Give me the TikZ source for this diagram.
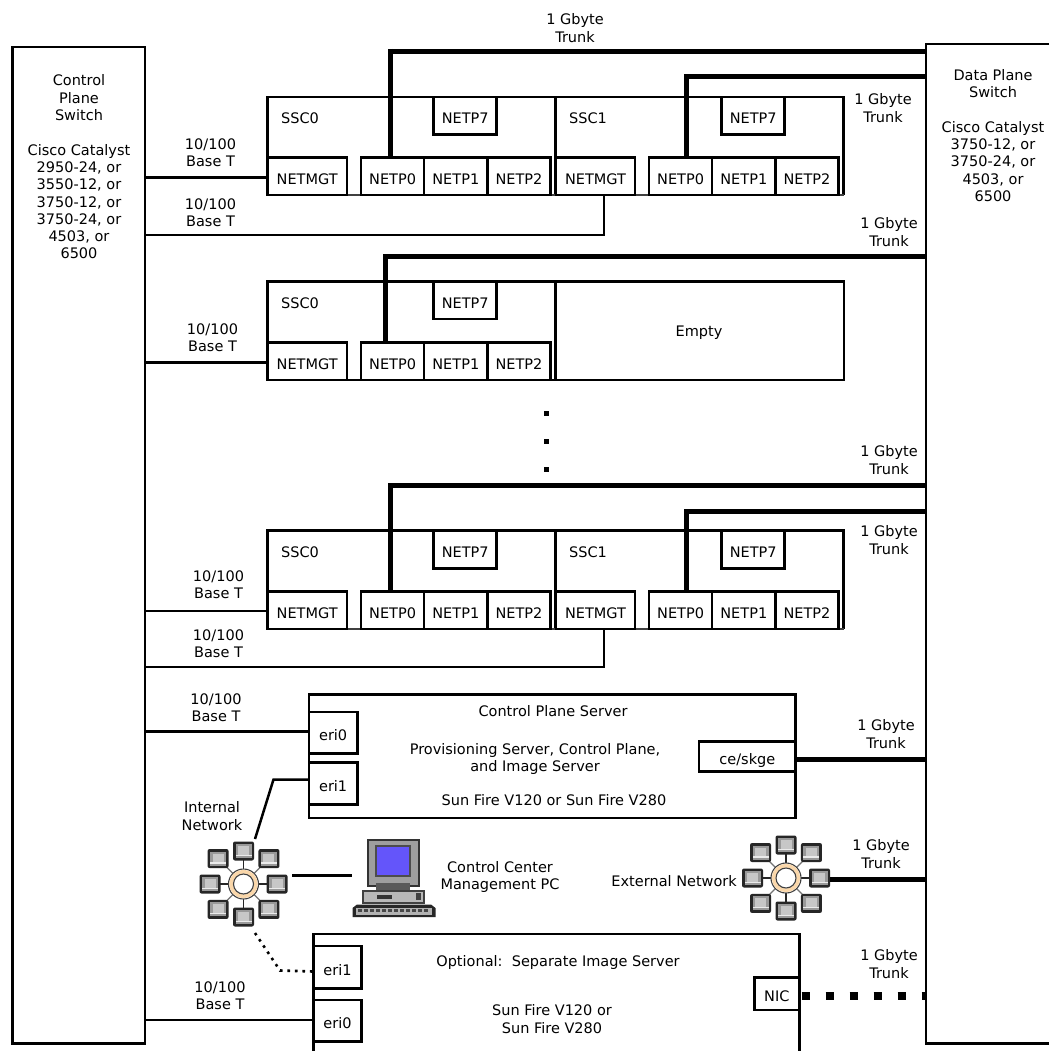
\documentclass[tikz,border=0pt]{standalone}
\usepackage{fontspec}
\setmainfont{DejaVu Sans}
\usetikzlibrary{calc}
\definecolor{screenblue}{RGB}{100,85,250}
\definecolor{ringorange}{RGB}{250,215,170}
\tikzset{
  x=1pt,y=-1pt,
  txt/.style={inner sep=0pt,align=center,font=\fontsize{14.5}{17.3}\selectfont},
  port/.style={draw,line width=2.5pt,fill=white,inner sep=0pt,outer sep=0pt,anchor=north west,
     font=\fontsize{14.5}{17.3}\selectfont,text height=16pt,text depth=0pt},
  frame/.style={line width=2.5pt},
  seam/.style={line width=1.8pt,black!75},
  thin link/.style={line width=2.5pt},
  trunk/.style={line width=5pt},
}
\newcommand{\portbox}[5]{\node[port,minimum width=#3pt,minimum height=#4pt] (#1) at (#2) {#5};}
\newcommand{\netgraph}[2]{%
 \begin{scope}[shift={(#2)}]
  \foreach \a in {0,90,180,270} \draw[line width=1.8pt,black!85] (0,0) -- (\a:30);
  \foreach \a in {45,135,225,315} \draw[line width=1.2pt,black!55] (0,0) -- (\a:30);
  \foreach \a/\r in {0/33.5,45/36,90/33,135/36,180/33.5,225/36,270/33,315/36}{
    \begin{scope}[shift={(\a:\r)}]
      \fill[black!85,rounded corners=2pt] (-10.5,-9.5) rectangle (10.5,9.5);
      \fill[black!40] (-8,-7) rectangle (8,7);
      \fill[black!22] (-5.5,-5) rectangle (5.5,3.5);
      \fill[black!8] (-8,3.5) rectangle (8,5);
    \end{scope}
  }
  \draw[black!75,fill=white,line width=1.1pt] (0,0) circle (15);
  \draw[ringorange,line width=3.6pt] (0,0) circle (12.4);
  \draw[black!75,line width=1.1pt] (0,0) circle (10);
 \end{scope}}
\begin{document}
\begin{tikzpicture}
\useasboundingbox (0,0) rectangle (1049,1051);
\fill[white] (0,0) rectangle (1049,1051);

% switches
\node[draw,line width=2.5pt,outer sep=0pt,inner sep=0pt,anchor=north west,minimum width=132.3pt,minimum height=996.5pt] (cps) at (12.7,47) {};
\coordinate (dps) at (926,44);
\draw[frame] (1049,44) -- (926,44) -- (926,1043.5) -- (1049,1043.5);
\node[txt] (cpstext) at (79,167) {Control\\Plane\\Switch\\[17.3pt]Cisco Catalyst\\2950-24, or\\3550-12, or\\3750-12, or\\3750-24, or\\4503, or\\6500};
\node[txt] (dpstext) at (993,135.5) {Data Plane\\Switch\\[17.3pt]Cisco Catalyst\\3750-12, or\\3750-24, or\\4503, or\\6500};

% SSC group 1
\draw[frame] (267.4,195) -- (267.4,96.8) -- (843.5,96.8) -- (843.5,195);
\draw[frame] (555.7,96.8) -- (555.7,195);
\draw[seam] (267.4,195) -- (843.5,195);
\node[txt,anchor=west] (a0) at (281,118.5) {SSC0};
\node[txt,anchor=west] (a1) at (569,118.5) {SSC1};
\portbox{a2}{433.7,96.8}{63}{37.5}{NETP7}
\portbox{a3}{721.7,96.8}{63}{37.5}{NETP7}
\portbox{a4}{267.4,157.4}{79.6}{37.6}{NETMGT}
\portbox{a5}{361,157.4}{63.2}{37.6}{NETP0}
\portbox{a6}{424.2,157.4}{63.2}{37.6}{NETP1}
\portbox{a7}{487.4,157.4}{63.2}{37.6}{NETP2}
\portbox{a8}{556,157.4}{79}{37.6}{NETMGT}
\portbox{a9}{649,157.4}{63.2}{37.6}{NETP0}
\portbox{a10}{712.2,157.4}{63.2}{37.6}{NETP1}
\portbox{a11}{775.4,157.4}{63.2}{37.6}{NETP2}

% SSC group 2
\draw[frame] (267.4,380) -- (267.4,281.5) -- (844,281.5) -- (844,380) -- cycle;
\draw[frame] (555.7,281.5) -- (555.7,380);
\node[txt,anchor=west] (b0) at (281,303.5) {SSC0};
\node[txt] (b1) at (699,333) {Empty};
\portbox{b2}{433.7,281.5}{63}{37.5}{NETP7}
\portbox{b4}{267.4,342.5}{79.6}{37.5}{NETMGT}
\portbox{b5}{361,342.5}{63.2}{37.5}{NETP0}
\portbox{b6}{424.2,342.5}{63.2}{37.5}{NETP1}
\portbox{b7}{487.4,342.5}{63.2}{37.5}{NETP2}

% dots
\foreach \y in {413,441,469} \fill (543.5,\y-2.5) rectangle +(5,5);

% SSC group 3
\draw[frame] (267.4,629) -- (267.4,530.5) -- (843.5,530.5) -- (843.5,629);
\draw[frame] (555.7,530.5) -- (555.7,629);
\draw[seam] (267.4,629) -- (843.5,629);
\node[txt,anchor=west] (c0) at (281,552.5) {SSC0};
\node[txt,anchor=west] (c1) at (569,552.5) {SSC1};
\portbox{c2}{433.7,530.5}{63}{37.8}{NETP7}
\portbox{c3}{721.7,530.5}{63}{37.8}{NETP7}
\portbox{c4}{267.4,591.5}{79.6}{37.7}{NETMGT}
\portbox{c5}{361,591.5}{63.2}{37.7}{NETP0}
\portbox{c6}{424.2,591.5}{63.2}{37.7}{NETP1}
\portbox{c7}{487.4,591.5}{63.2}{37.7}{NETP2}
\portbox{c8}{556,591.5}{79}{37.7}{NETMGT}
\portbox{c9}{649,591.5}{63.2}{37.7}{NETP0}
\portbox{c10}{712.2,591.5}{63.2}{37.7}{NETP1}
\portbox{c11}{775.4,591.5}{63.2}{37.7}{NETP2}

% control plane server
\node[draw,line width=2.5pt,outer sep=0pt,inner sep=0pt,anchor=north west,minimum width=486.7pt,minimum height=123.7pt] (srv) at (309,694.3) {};
\node[txt] (srvt) at (553,711) {Control Plane Server};
\node[txt] (srvd) at (535,759) {Provisioning Server, Control Plane,\\and Image Server};
\node[txt] (srvs) at (554,800) {Sun Fire V120 or Sun Fire V280};
\portbox{eA}{309,712}{48.3}{41.5}{eri0}
\portbox{eB}{309,762.5}{48.3}{41.8}{eri1}
\portbox{ce}{699,741.3}{96.7}{30}{ce/skge}

% image server
\draw[frame] (313.3,1051) -- (313.3,934) -- (799.5,934) -- (799.5,1051);
\node[txt] (imt) at (558,962) {Optional:\ \ Separate Image Server};
\node[txt] (ims) at (552,1019) {Sun Fire V120 or\\Sun Fire V280};
\portbox{fB}{313.3,946}{48.4}{42.3}{eri1}
\portbox{fA}{313.3,1000}{48.4}{41.7}{eri0}
\portbox{nic}{754.3,977.7}{45}{32.3}{NIC}

% networks
\netgraph{inet}{243.5,884}
\netgraph{enet}{786,878}
\coordinate (inetTop) at (255,839);
\coordinate (inetRight) at (292.3,875.7);
\coordinate (inetBottom) at (255,933);
\coordinate (enetRight) at (830,879.3);
\node[txt] (inl) at (212,816) {Internal\\Network};
\node[txt,anchor=east] (enl) at (737,881) {External Network};
\node[txt] (pcl) at (500,877) {Control Center\\Management PC};

% PC
\coordinate (pcLeft) at (352,875.7);
\fill[black!80] (366.5,839) rectangle (419.5,887);
\fill[black!38] (368.5,841) rectangle (417.5,885);
\fill[black!70] (375,845) rectangle (411,877);
\fill[screenblue] (377,847) rectangle (409,875);
\fill[black!65] (376,883) rectangle (410,890);
\fill[black!75] (361.5,890) rectangle (425,904);
\fill[black!28] (363.5,892) rectangle (423,902);
\fill[black!80] (377,895) rectangle (392,899);
\fill[black!75] (416,893) rectangle (421,900);
\fill[black!85] (352.5,917) -- (352.5,908) -- (357,904.5) -- (431,904.5) -- (435.5,908) -- (435.5,917) -- cycle;
\fill[black!30] (356,907.5) rectangle (432,914.5);
\foreach \k in {0,...,11} \fill[black!72] (358+\k*6,909) rectangle +(4.2,3);

% connectors
\draw[thin link] (cps.east |- 0,177.7) -- (a4.west |- 0,177.7);
\draw[thin link] (cps.east |- 0,234.8) -- (604,234.8) -- (a8.south -| 604,0);
\draw[thin link] (cps.east |- 0,362.5) -- (b4.west |- 0,362.5);
\draw[thin link] (cps.east |- 0,611) -- (c4.west |- 0,611);
\draw[thin link] (cps.east |- 0,666.8) -- (604,666.8) -- (c8.south -| 604,0);
\draw[thin link] (cps.east |- 0,731.5) -- (eA.west |- 0,731.5);
\draw[thin link] (cps.east |- 0,1020) -- (fA.west |- 0,1020);
\draw[thin link] (inetTop) -- (273.5,779.5) -- (eB.west |- 0,779.5);
\draw[thin link] (inetRight) -- (pcLeft);
\draw[line width=2.6pt,dash pattern=on 2.6pt off 4.9pt] (inetBottom) -- (280,970.5) -- (fB.west |- 0,971.5);
\draw[trunk] (388,51.3) -- (dps |- 0,51.3);
\draw[trunk] (390.3,49) -- (a5.north -| 390.3,0);
\draw[trunk] (684,76.8) -- (dps |- 0,76.8);
\draw[trunk] (686,74.5) -- (a9.north -| 686,0);
\draw[trunk] (383,256.5) -- (dps |- 0,256.5);
\draw[trunk] (385,254) -- (b5.north -| 385,0);
\draw[trunk] (388,485.3) -- (dps |- 0,485.3);
\draw[trunk] (390.3,483) -- (c5.north -| 390.3,0);
\draw[trunk] (684,511.5) -- (dps |- 0,511.5);
\draw[trunk] (686,509) -- (c9.north -| 686,0);
\draw[trunk] (ce.east |- 0,759) -- (dps |- 0,759);
\draw[trunk] (enetRight) -- (dps |- enetRight);
\draw[line width=8pt,dash pattern=on 8pt off 16pt] (nic.east |- 0,996) ++(2.2,0) -- (dps |- 0,996);

% labels
\node[txt] (l1) at (575,28) {1 Gbyte\\Trunk};
\node[txt] (l2) at (883,108) {1 Gbyte\\Trunk};
\node[txt] (l3) at (889,232) {1 Gbyte\\Trunk};
\node[txt] (l4) at (889,460) {1 Gbyte\\Trunk};
\node[txt] (l5) at (889,540) {1 Gbyte\\Trunk};
\node[txt] (l6) at (886,734) {1 Gbyte\\Trunk};
\node[txt] (l7) at (881,854) {1 Gbyte\\Trunk};
\node[txt] (l8) at (889,964) {1 Gbyte\\Trunk};
\node[txt] (t1) at (210.5,153) {10/100\\Base T};
\node[txt] (t2) at (210.5,213) {10/100\\Base T};
\node[txt] (t3) at (212.5,338) {10/100\\Base T};
\node[txt] (t4) at (218.5,585) {10/100\\Base T};
\node[txt] (t5) at (218.5,644) {10/100\\Base T};
\node[txt] (t6) at (216,708) {10/100\\Base T};
\node[txt] (t7) at (220,996) {10/100\\Base T};
\end{tikzpicture}
\end{document}
